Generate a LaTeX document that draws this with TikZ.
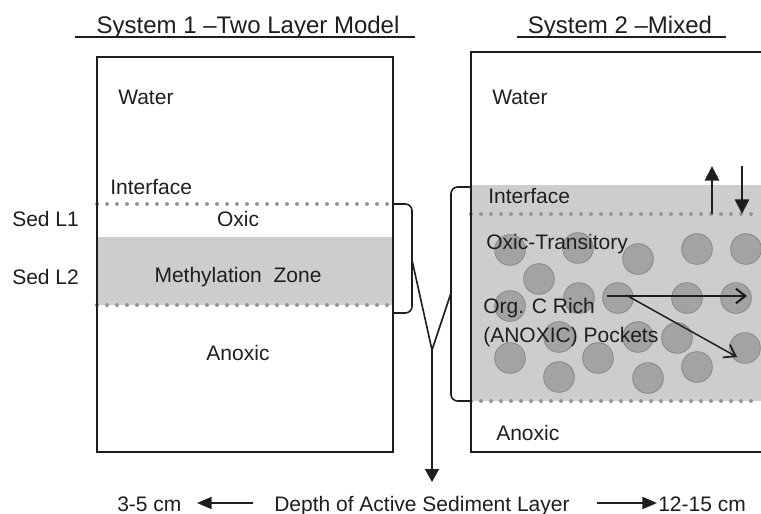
\documentclass[tikz,border=0pt]{standalone}
\usepackage{fontspec}
\setmainfont{Liberation Sans}
\usetikzlibrary{arrows.meta}
\definecolor{bandgray}{RGB}{205,205,207}
\definecolor{pocketfill}{RGB}{163,163,165}
\definecolor{pocketedge}{RGB}{135,135,137}
\definecolor{dotgray}{RGB}{150,150,152}
\definecolor{ink}{RGB}{30,30,30}
\begin{document}
\begin{tikzpicture}[x=0.75pt,y=-0.75pt,
  lbl/.style={inner sep=0pt, font=\fontsize{15.75}{18}\selectfont, text=ink},
  ttl/.style={inner sep=0pt, font=\fontsize{18}{21}\selectfont, text=ink},
  boxline/.style={draw=ink, line width=1.5pt},
  dotline/.style={draw=dotgray, line width=3pt, line cap=round, dash pattern=on 0pt off 7.5pt},
  bracket/.style={draw=ink, line width=1.2pt, rounded corners=5pt},
  pocket/.style={circle, fill=pocketfill, draw=pocketedge, line width=0.6pt, minimum size=23pt, inner sep=0pt},
  thinline/.style={draw=ink, line width=1.2pt},
  bigarrow/.style={draw=ink, line width=1.5pt, -{Triangle[length=9.75pt,width=10.5pt]}},
  fluxarrow/.style={draw=ink, line width=2.2pt, -{Triangle[length=11pt,width=10.5pt]}},
  pathheavy/.style={draw=ink, line width=2.2pt, -{Straight Barb[length=7pt,width=11pt,line width=1.6pt]}},
  pathlight/.style={draw=ink, line width=1.1pt, -{Straight Barb[length=8pt,width=11pt,line width=1.3pt]}},
  sidearrow/.style={draw=ink, line width=1.5pt, -{Triangle[length=11pt,width=9pt]}}
]
\useasboundingbox (0,0) rectangle (761,514);
\fill[white] (0,0) rectangle (761,514);

% titles
\node[ttl, anchor=base] (t1) at (248,33) {System 1 –Two Layer Model};
\node[ttl, anchor=base] (t2) at (620,33) {System 2 –Mixed};
\draw[ink, line width=1.5pt] (75,37) -- (415,37);
\draw[ink, line width=1.5pt] (517,37) -- (726,37);

% gray zones
\fill[bandgray] (97,237) rectangle (393,305);
\fill[bandgray] (471,185) rectangle (761,401);

% pockets
\foreach \i/\cx/\cy in {1/510/250,2/578/248,3/638/259,4/697/249,5/746/249,
  6/539/279,7/510/306,8/579/298,9/618/298,10/687/298,11/736/298,
  12/559/337,13/638/337,14/677/338,15/745/348,
  16/510/358,17/598/358,18/697/367,19/559/377,20/648/378}
  \node[pocket] (p\i) at (\cx,\cy) {};

% dotted interfaces
\draw[dotline] (97,204) -- (393,204);
\draw[dotline] (97,305) -- (393,305);
\draw[dotline] (471,214) -- (761,214);
\draw[dotline] (471,401) -- (761,401);

% boxes
\draw[boxline] (97,57) rectangle (393,452);
\draw[boxline] (761,52) -- (471,52) -- (471,452) -- (761,452);

% labels system 1
\node[lbl, anchor=base west] (w1) at (118,104.5) {Water};
\node[lbl, anchor=base west] (i1) at (110,194.5) {Interface};
\node[lbl, anchor=base west] (s1) at (12,226.5) {Sed L1};
\node[lbl, anchor=base] (ox1) at (238,226.5) {Oxic};
\node[lbl, anchor=base] (mz) at (238,282) {Methylation\ \ Zone};
\node[lbl, anchor=base west] (s2) at (12,284.5) {Sed L2};
\node[lbl, anchor=base] (an1) at (238,360) {Anoxic};

% labels system 2
\node[lbl, anchor=base west] (w2) at (492,104.5) {Water};
\node[lbl, anchor=base west] (i2) at (488,203.5) {Interface};
\node[lbl, anchor=base west] (ot) at (486,249.5) {Oxic-Transitory};
\node[lbl, anchor=base west] (oc) at (483,313.5) {Org. C Rich};
\node[lbl, anchor=base west] (ap) at (483,342) {(ANOXIC) Pockets};
\node[lbl, anchor=base west] (an2) at (496,440.5) {Anoxic};

% brackets
\draw[bracket] (393,204) -- (412,204) -- (412,313) -- (393,313);
\draw[bracket] (471,187) -- (451,187) -- (451,401) -- (471,401);

% connector to depth axis
\coordinate (bl) at (412,260);
\coordinate (br) at (451,293);
\coordinate (jn) at (432,350);
\coordinate (tip) at (432,482);
\draw[thinline] (bl) -- (jn) -- (br);
\draw[bigarrow] (jn) -- (tip);

% flux arrows at interface
\coordinate (u0) at (712,214);
\coordinate (u1) at (712,166);
\coordinate (d0) at (742,166);
\coordinate (d1) at (742,214);
\draw[fluxarrow] (u0) -- (u1);
\draw[fluxarrow] (d0) -- (d1);

% transport arrows between pockets
\coordinate (h0) at (607,296);
\coordinate (h1) at (747,296);
\coordinate (g0) at (626,295);
\coordinate (g1) at (737,357);
\draw[pathheavy] (h0) -- (h1);
\draw[pathlight] (g0) -- (g1);

% depth axis
\node[lbl, anchor=base west] (lo) at (117,511.5) {3-5 cm};
\node[lbl, anchor=base west] (dep) at (274,511.5) {Depth of Active Sediment Layer};
\node[lbl, anchor=base west] (hi) at (658,511.5) {12-15 cm};
\coordinate (la0) at (253,503);
\coordinate (la1) at (197,503);
\coordinate (ra0) at (597,503);
\coordinate (ra1) at (657,503);
\draw[sidearrow] (la0) -- (la1);
\draw[sidearrow] (ra0) -- (ra1);
\end{tikzpicture}
\end{document}
